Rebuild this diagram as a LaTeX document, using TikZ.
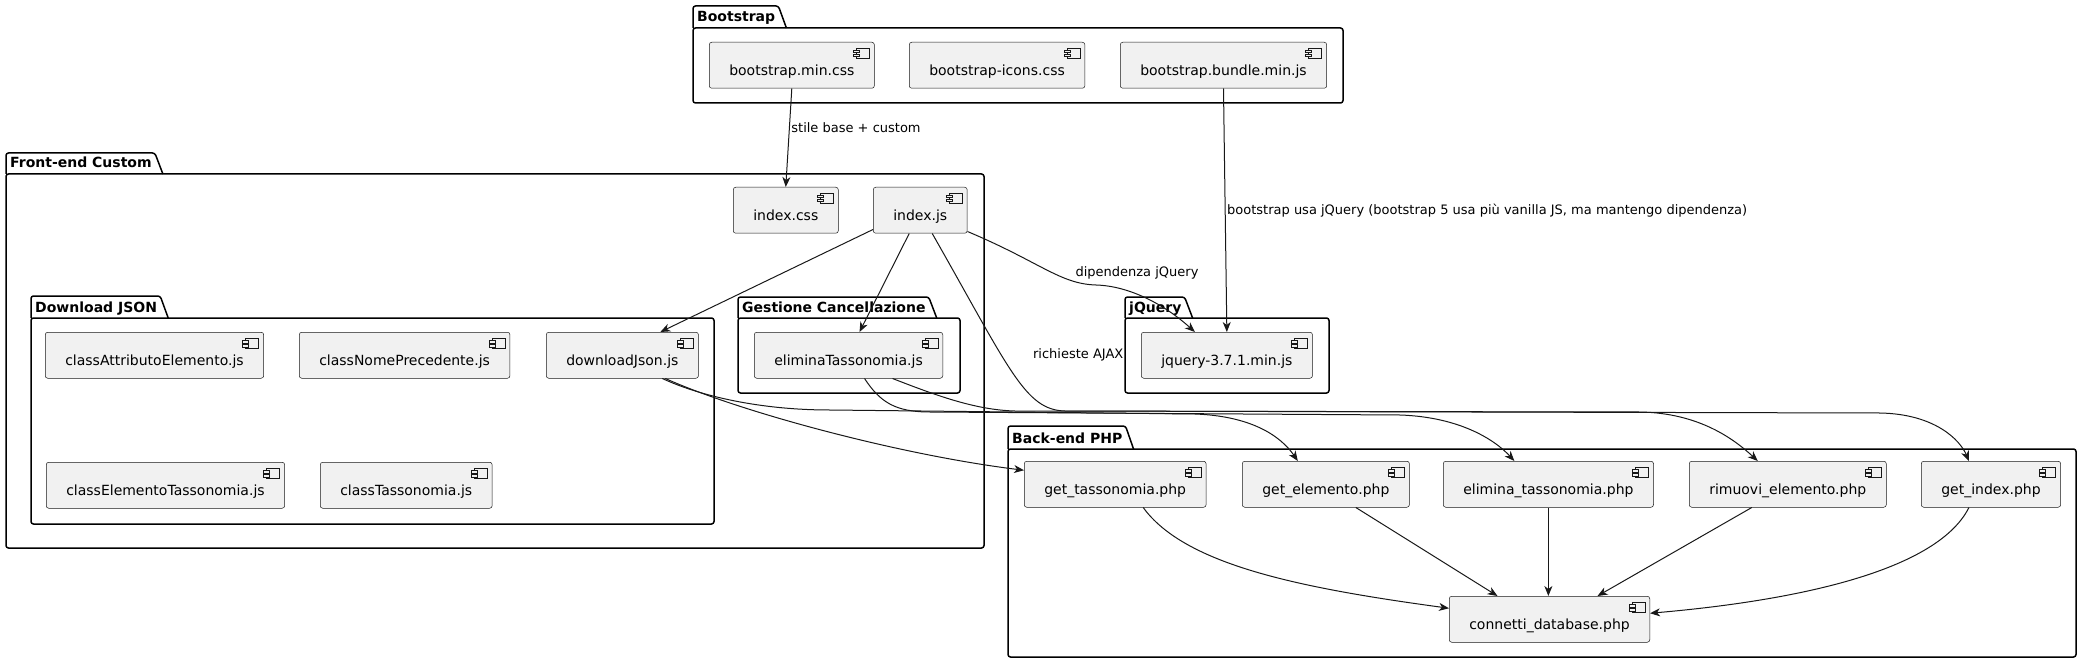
\documentclass[tikz,border=0pt]{standalone}
\usepackage{fontspec}
\setmainfont{DejaVu Sans}
\usetikzlibrary{arrows.meta}
\definecolor{compfill}{HTML}{F1F1F1}
\definecolor{compline}{HTML}{181818}

\tikzset{
  comp/.style={draw=compline, fill=compfill, line width=0.5pt, rounded corners=2.5pt,
    anchor=north west, inner xsep=20pt, inner ysep=9pt, text height=24pt, text depth=4pt,
    font=\fontsize{14}{16}\selectfont,
    path picture={
      \draw[sharp corners, line width=0.5pt, draw=compline]
        ([xshift=-18pt,yshift=-6pt]path picture bounding box.north east) rectangle ([xshift=-5pt,yshift=-16pt]path picture bounding box.north east);
      \filldraw[sharp corners, line width=0.5pt, draw=compline, fill=compfill]
        ([xshift=-21pt,yshift=-8pt]path picture bounding box.north east) rectangle ([xshift=-15pt,yshift=-10.5pt]path picture bounding box.north east)
        ([xshift=-21pt,yshift=-12pt]path picture bounding box.north east) rectangle ([xshift=-15pt,yshift=-14.5pt]path picture bounding box.north east);
    }},
  pkgline/.style={line width=1.5pt, rounded corners=2.5pt},
  pkglabel/.style={anchor=base west, inner sep=0pt, font=\fontsize{14}{16}\selectfont\bfseries},
  arr/.style={draw=compline, line width=1pt, -{Stealth[length=10pt,width=8pt,inset=3pt]}},
  lbl/.style={inner sep=1.5pt, font=\fontsize{13}{15}\selectfont}
}

\newcommand{\umlpkg}[7]{%
  \node[pkglabel] (#1) at (#3+4,#5-6) {#2};
  \path (#1.east) ++(3pt,0pt) coordinate (#1a) ++(8pt,0pt) coordinate (#1b);
  \draw[pkgline] (#3,#5) -- (#3,#4) -- (#1a |- 0,#4) -- (#1b |- 0,#5);
  \draw[pkgline] (#3,#5) rectangle (#6,#7);
}

\begin{document}
\begin{tikzpicture}[x=1pt,y=-1pt]
\useasboundingbox (0,0) rectangle (2083,663);

\umlpkg{pkgboot}{Bootstrap}{693}{6}{28}{1343}{103}
\umlpkg{pkgfront}{Front-end Custom}{6}{153}{174}{984}{548}
\umlpkg{pkgdl}{Download JSON}{31}{296}{318}{714}{524}
\umlpkg{pkgdel}{Gestione Cancellazione}{738}{297}{318}{960}{393}
\umlpkg{pkgjq}{jQuery}{1125}{297}{318}{1329}{393}
\umlpkg{pkgphp}{Back-end PHP}{1008}{426}{449}{2076}{657}

\node[comp] (bsmin) at (709,42) {bootstrap.min.css};
\node[comp] (bsicons) at (909,42) {bootstrap-icons.css};
\node[comp] (bsbundle) at (1120,42) {bootstrap.bundle.min.js};

\node[comp] (idxcss) at (733,187) {index.css};
\node[comp] (idxjs) at (873,187) {index.js};

\node[comp] (clsattr) at (45,332) {classAttributoElemento.js};
\node[comp] (clsnome) at (299,332) {classNomePrecedente.js};
\node[comp] (dljson) at (546,332) {downloadJson.js};
\node[comp] (clselem) at (46,462) {classElementoTassonomia.js};
\node[comp] (clstass) at (320,462) {classTassonomia.js};

\node[comp] (elimjs) at (754,332) {eliminaTassonomia.js};
\node[comp] (jq) at (1141,332) {jquery-3.7.1.min.js};

\node[comp] (gettass) at (1024,461) {get\_tassonomia.php};
\node[comp] (getelem) at (1242,461) {get\_elemento.php};
\node[comp] (elimphp) at (1443,461) {elimina\_tassonomia.php};
\node[comp] (rimphp) at (1689,461) {rimuovi\_elemento.php};
\node[comp] (getidx) at (1921,461) {get\_index.php};
\node[comp] (conndb) at (1449,596) {connetti\_database.php};

\draw[arr] (bsmin.south) -- (idxcss.north) node[lbl, pos=0.4, anchor=west] (lblstile) {stile base + custom};
\draw[arr] (bsbundle.south) -- (jq.north) node[lbl, pos=0.5, anchor=west] (lblboot) {bootstrap usa jQuery (bootstrap 5 usa più vanilla JS, ma mantengo dipendenza)};

\draw[arr] ([yshift=4pt]idxjs.south west) -- ([xshift=38pt]dljson.north);
\draw[arr] ([xshift=-11pt]idxjs.south) -- ([xshift=11pt]elimjs.north);
\draw[arr] ([yshift=2pt]idxjs.south east) .. controls (1040,262) and (1060,284) .. (1096,285) .. controls (1130,286) and (1165,305) .. ([xshift=-32pt]jq.north);
\node[lbl] (lbldip) at (1137,273) {dipendenza jQuery};
\draw[arr] ([xshift=12pt]idxjs.south) .. controls (1010,370) and (1025,410) .. (1065,411) -- (1880,413) .. controls (1935,414) and (1960,440) .. ([xshift=-22pt]getidx.north);
\node[lbl, anchor=east] (lblajax) at (1125,355) {richieste AJAX};

\draw[arr] ([xshift=43pt]dljson.south) .. controls (740,412) and (900,455) .. ([yshift=14pt]gettass.west);
\draw[arr] ([xshift=40pt]dljson.south) .. controls (700,396) and (760,410) .. (830,410) -- (1195,414) .. controls (1250,416) and (1280,435) .. ([xshift=-28pt]getelem.north);
\draw[arr] ([xshift=16pt]elimjs.south) .. controls (880,402) and (895,412) .. (930,412) -- (1400,415) .. controls (1460,417) and (1495,440) .. ([xshift=-34pt]elimphp.north);
\draw[arr] ([xshift=44pt]elimjs.south) .. controls (935,395) and (975,410) .. (1015,411) -- (1640,412) .. controls (1700,413) and (1735,440) .. ([xshift=-30pt]rimphp.north);

\draw[arr] ([xshift=28pt]gettass.south) .. controls (1185,565) and (1300,588) .. ([yshift=11pt]conndb.west);
\draw[arr] ([xshift=30pt]getelem.south) -- ([xshift=-52pt]conndb.north);
\draw[arr] (elimphp.south) -- (elimphp.south |- conndb.north);
\draw[arr] ([xshift=-36pt]rimphp.south) -- ([xshift=48pt]conndb.north);
\draw[arr] ([xshift=-22pt]getidx.south) .. controls (1935,575) and (1780,602) .. ([yshift=6pt]conndb.east);
\end{tikzpicture}
\end{document}
